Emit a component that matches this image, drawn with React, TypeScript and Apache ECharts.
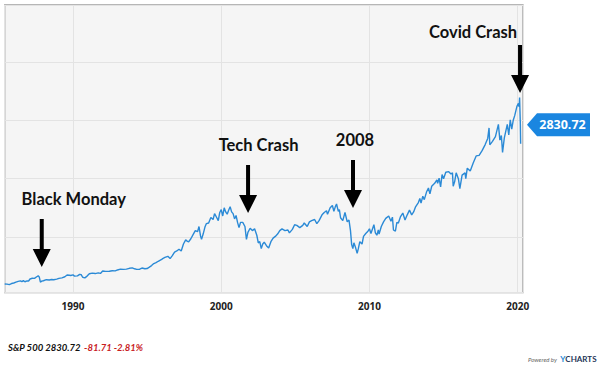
import React, { useEffect, useRef } from "react";
import * as echarts from "echarts";

// Decimal-year dates and S&P 500 levels
const years = [
  1985.39, 1985.55, 1985.7, 1985.85, 1986.0, 1986.15, 1986.3, 1986.45, 1986.55, 1986.65, 1986.75, 1986.9,
  1987.0, 1987.1, 1987.25, 1987.4, 1987.55, 1987.65, 1987.72, 1987.8, 1987.9,
  1988.0, 1988.2, 1988.4, 1988.55, 1988.7, 1988.9,
  1989.05, 1989.25, 1989.45, 1989.6, 1989.75, 1989.85,
  1990.0, 1990.1, 1990.3, 1990.45, 1990.55, 1990.65, 1990.8, 1990.95,
  1991.1, 1991.3, 1991.5, 1991.7, 1991.85,
  1992.0, 1992.2, 1992.45, 1992.65, 1992.85,
  1993.0, 1993.2, 1993.4, 1993.6, 1993.8,
  1994.0, 1994.15, 1994.3, 1994.5, 1994.65, 1994.85,
  1995.0, 1995.15, 1995.3, 1995.45, 1995.6, 1995.75, 1995.95,
  1996.05, 1996.2, 1996.4, 1996.55, 1996.7, 1996.85,
  1997.0, 1997.15, 1997.3, 1997.45, 1997.6, 1997.7, 1997.8, 1997.95,
  1998.1, 1998.25, 1998.4, 1998.5, 1998.6, 1998.67, 1998.78, 1998.9,
  1999.0, 1999.15, 1999.3, 1999.45, 1999.55, 1999.7, 1999.8, 1999.9,
  2000.0, 2000.1, 2000.2, 2000.3, 2000.4, 2000.5, 2000.6, 2000.7, 2000.8, 2000.9,
  2001.0, 2001.1, 2001.2, 2001.3, 2001.45, 2001.6, 2001.7, 2001.8, 2001.95,
  2002.1, 2002.25, 2002.4, 2002.5, 2002.6, 2002.7, 2002.8, 2002.9,
  2003.05, 2003.2, 2003.35, 2003.5, 2003.65, 2003.8, 2003.95,
  2004.1, 2004.3, 2004.5, 2004.6, 2004.8, 2004.95,
  2005.1, 2005.3, 2005.5, 2005.6, 2005.8, 2005.95,
  2006.1, 2006.3, 2006.45, 2006.6, 2006.8, 2006.95,
  2007.1, 2007.17, 2007.35, 2007.5, 2007.6, 2007.7, 2007.78, 2007.9, 2007.97,
  2008.05, 2008.2, 2008.35, 2008.5, 2008.62, 2008.72, 2008.8, 2008.88, 2008.95,
  2009.05, 2009.17, 2009.25, 2009.35, 2009.5, 2009.6, 2009.75, 2009.9,
  2010.0, 2010.1, 2010.3, 2010.4, 2010.5, 2010.6, 2010.65, 2010.8, 2010.95,
  2011.1, 2011.3, 2011.45, 2011.55, 2011.62, 2011.75, 2011.85, 2011.95,
  2012.1, 2012.25, 2012.4, 2012.55, 2012.7, 2012.85, 2012.98,
  2013.1, 2013.3, 2013.4, 2013.48, 2013.6, 2013.7, 2013.85, 2013.98,
  2014.08, 2014.2, 2014.4, 2014.55, 2014.6, 2014.7, 2014.8, 2014.9,
  2015.0, 2015.15, 2015.35, 2015.5, 2015.6, 2015.65, 2015.75, 2015.85,
  2016.0, 2016.1, 2016.25, 2016.45, 2016.5, 2016.6, 2016.8, 2016.9,
  2017.0, 2017.2, 2017.4, 2017.6, 2017.8, 2017.98,
  2018.07, 2018.12, 2018.3, 2018.5, 2018.7, 2018.8, 2018.9, 2018.98,
  2019.1, 2019.3, 2019.4, 2019.5, 2019.6, 2019.7, 2019.8, 2019.95,
  2020.05, 2020.1, 2020.13, 2020.18, 2020.2,
];

const prices = [
  194, 192, 184, 202, 211, 226, 240, 248, 236, 252, 233, 248,
  246, 280, 292, 290, 318, 334, 315, 225, 245,
  250, 268, 262, 272, 267, 277,
  290, 300, 318, 348, 345, 340,
  350, 330, 333, 360, 355, 310, 300, 330,
  370, 380, 373, 386, 375,
  417, 410, 413, 422, 420,
  435, 448, 445, 450, 463,
  470, 455, 444, 448, 468, 455,
  459, 484, 510, 544, 560, 584, 610,
  630, 650, 668, 630, 680, 740,
  760, 790, 760, 880, 950, 930, 915, 970,
  1040, 1110, 1090, 1180, 1020, 960, 1050, 1170,
  1230, 1240, 1335, 1300, 1400, 1330, 1280, 1420,
  1470, 1360, 1500, 1430, 1390, 1460, 1520, 1430, 1400, 1310,
  1370, 1250, 1160, 1250, 1250, 1180, 960, 1080, 1150,
  1110, 1140, 1030, 900, 920, 800, 880, 910,
  850, 810, 920, 980, 1010, 1050, 1110,
  1140, 1110, 1120, 1070, 1130, 1210,
  1200, 1160, 1200, 1240, 1180, 1260,
  1280, 1300, 1230, 1280, 1380, 1420,
  1450, 1390, 1500, 1540, 1440, 1520, 1565, 1440, 1470,
  1330, 1280, 1420, 1260, 1290, 1110, 870, 800, 900,
  830, 720, 800, 920, 880, 1010, 1060, 1100,
  1140, 1060, 1210, 1070, 1030, 1120, 1050, 1180, 1260,
  1320, 1360, 1270, 1340, 1120, 1100, 1250, 1240,
  1350, 1410, 1290, 1380, 1460, 1380, 1430,
  1510, 1590, 1660, 1580, 1700, 1640, 1770, 1840,
  1740, 1870, 1920, 1980, 1920, 2010, 1860, 2070,
  2000, 2110, 2120, 2080, 2100, 1870, 1950, 2100,
  2000, 1830, 2060, 2100, 2000, 2180, 2130, 2200,
  2270, 2390, 2400, 2480, 2580, 2690,
  2870, 2580, 2640, 2720, 2930, 2660, 2740, 2450,
  2700, 2930, 2750, 3010, 2850, 3000, 3080, 3240,
  3290, 3230, 3390, 2950, 2600,
];

// Axis ranges
const xMin = 1985.39;
const xMax = 2020.36;
const yMin = 45;
const yMax = 4977;

// Annotations: label, year and level at arrow tip
const eventNames = ["Black Monday", "Tech Crash", "2008", "Covid Crash"];
const eventYears = [1987.89, 2001.81, 2008.89, 2020.16];
const eventLevels = [485, 1411, 1497, 3468];
const eventLabelOffsets = [
  [32, -44],
  [10.5, -44.5],
  [2, -44],
  [-47, -37],
];

// Last value tag
const lastValue = 2830.72;
const tagLevel = 2925;
const change = -81.71;
const changePct = -2.81;

const ARROW = "path://M7,0 L11,0 L11,30 L18,30 L9,48 L0,30 L7,30 Z";
const TAG = "path://M0,11.5 L10,0 L63,0 L63,23 L10,23 Z";

export default function App() {
  const ref = useRef<HTMLDivElement>(null);

  useEffect(() => {
    if (!ref.current) return;
    const chart = echarts.init(ref.current, null, { renderer: "svg" });
    const data = years.map((y, i) => [y, prices[i]]);

    const eventPoints = eventNames.map((name, i) => ({
      name,
      coord: [eventYears[i], eventLevels[i]],
      symbol: ARROW,
      symbolSize: [18, 48],
      symbolKeepAspect: false,
      symbolOffset: [0, -24],
      itemStyle: { color: "#000" },
      label: {
        show: true,
        position: "inside",
        offset: eventLabelOffsets[i],
        formatter: name,
        color: "#111",
        fontSize: 16.5,
        fontWeight: "bold",
        fontFamily: "Lato",
      },
    }));

    const tagPoint = {
      name: "last",
      coord: [xMax, tagLevel],
      symbol: TAG,
      symbolSize: [63, 23],
      symbolKeepAspect: false,
      symbolOffset: [35.5, 0],
      itemStyle: { color: "#1a86e0" },
      label: {
        show: true,
        position: "inside",
        offset: [4, 0],
        formatter: lastValue.toFixed(2),
        color: "#fff",
        fontSize: 12.5,
        fontWeight: "bold",
        fontFamily: "Open Sans",
      },
    };

    chart.setOption({
      animation: false,
      grid: {
        left: 4.7,
        right: 77,
        top: 5,
        bottom: 78.3,
        show: true,
        backgroundColor: "#f5f5f5",
        borderColor: "#9e9e9e",
        borderWidth: 1.3,
      },
      xAxis: {
        type: "value",
        min: xMin,
        max: xMax,
        splitNumber: 3,
        axisLine: { show: false },
        axisTick: { show: false },
        splitLine: { show: true, lineStyle: { color: "#e3e3e3", width: 1 } },
        axisLabel: {
          showMinLabel: false,
          showMaxLabel: false,
          formatter: (v: number) => String(Math.round(v)),
          color: "#222",
          fontSize: 10,
          fontWeight: "bold",
          fontFamily: "Open Sans",
          margin: 8,
        },
      },
      yAxis: {
        type: "value",
        min: yMin,
        max: yMax,
        splitNumber: 5,
        axisLine: { show: false },
        axisTick: { show: false },
        axisLabel: { show: false },
        splitLine: { show: true, lineStyle: { color: "#e3e3e3", width: 1 } },
      },
      series: [
        {
          type: "line",
          data,
          showSymbol: false,
          symbol: "none",
          lineStyle: { color: "#2b8ad6", width: 1.4 },
          markPoint: {
            silent: true,
            data: [...eventPoints, tagPoint],
          },
        },
      ],
      graphic: [
        {
          type: "text",
          left: 8,
          top: 341,
          style: {
            text: `{a|S&P 500 ${lastValue.toFixed(2)}} {b|${change.toFixed(2)} ${changePct.toFixed(2)}%}`,
            rich: {
              a: { fontFamily: "Lato", fontStyle: "italic", fontWeight: "bold", fontSize: 9.5, fill: "#111" },
              b: { fontFamily: "Lato", fontStyle: "italic", fontWeight: "bold", fontSize: 9.5, fill: "#c8201e" },
            },
          },
        },
        {
          type: "text",
          left: 528,
          top: 353,
          style: {
            text: "{p|Powered by} {y|Y}{c|CHARTS}",
            rich: {
              p: { fontFamily: "Lato", fontStyle: "italic", fontSize: 6, fill: "#666" },
              y: { fontFamily: "Lato", fontWeight: "bold", fontSize: 8, fill: "#2a8ad6" },
              c: { fontFamily: "Lato", fontWeight: "bold", fontSize: 8, fill: "#1d3557" },
            },
          },
        },
      ],
    });

    return () => chart.dispose();
  }, []);

  return (
    <div
      ref={ref}
      style={{ position: "absolute", left: 0, top: 0, width: 600, height: 371, background: "#fff" }}
    />
  );
}
